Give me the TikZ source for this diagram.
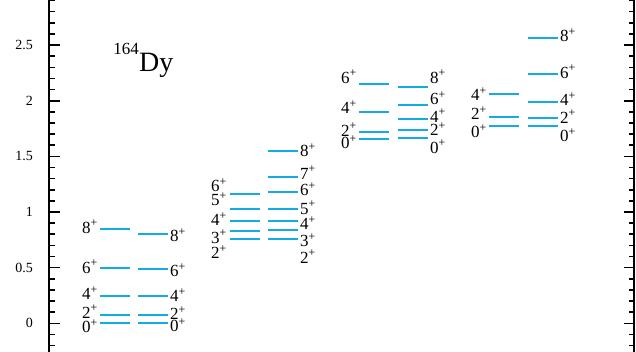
\documentclass[tikz,border=0pt]{standalone}
\usepackage{fontspec}
\setmainfont{Liberation Serif}
\usetikzlibrary{positioning}
\definecolor{levelblue}{RGB}{20,170,228}

\begin{document}
\begin{tikzpicture}[x=1pt, y=111.3pt,
        level/.style={draw=levelblue, line width=2pt},
        spin/.style={inner sep=0pt, font=\fontsize{17}{17}\selectfont},
        axis/.style={draw=black, line width=2pt},
        tickmark/.style={draw=black, line width=1.6pt},
        ticklab/.style={anchor=east, inner sep=0pt, font=\fontsize{14}{14}\selectfont}
        ]
        \useasboundingbox (0,-0.249) rectangle (636,2.905);

        % Axes
        \draw[axis] (49,-0.26) -- (49,2.92);
        \draw[axis] (634,-0.26) -- (634,2.92);
        \foreach \t in {-2,...,29} {
            \draw[tickmark] (49,\t/10) -- ++(6,0);
            \draw[tickmark] (634,\t/10) -- ++(-5,0);
        }
        \foreach \t/\name in {0/0, 0.5/0.5, 1/1, 1.5/1.5, 2/2, 2.5/2.5} {
            \draw[tickmark] (49,\t) -- ++(11,0);
            \draw[tickmark] (634,\t) -- ++(-10,0);
            \node[ticklab] (tick-\name) at (33,\t) {\name};
        }

        % Title
        \node[anchor=base west, inner sep=0pt, font=\fontsize{28}{28}\selectfont] (elem) at (139,2.261) {Dy};
        \node[anchor=base east, inner sep=0pt, font=\fontsize{17}{17}\selectfont] (mass) at (139,2.411) {164};

        % Ground band
        \foreach \e/\ly/\j in {0/-0.024/0, 0.0734/0.104/2, 0.2422/0.270/4, 0.5013/0.509/6, 0.8438/0.868/8} {
            \draw[level] (100,\e) -- (130,\e);
            \node[spin, anchor=east] (gexp-\j) at (98,\ly) {\j\textsuperscript{+}};
        }
        \foreach \e/\ly/\j in {0/-0.015/0, 0.075/0.090/2, 0.243/0.254/4, 0.491/0.479/6, 0.800/0.793/8} {
            \draw[level] (138,\e) -- (168,\e);
            \node[spin, anchor=west] (gth-\j) at (170,\ly) {\j\textsuperscript{+}};
        }

        % Gamma band
        \foreach \e/\ly/\j in {0.7618/0.638/2, 0.8282/0.778/3, 0.9159/0.937/4, 1.0250/1.114/5, 1.1590/1.243/6} {
            \draw[level] (230,\e) -- (260,\e);
            \node[spin, anchor=east] (gaexp-\j) at (227,\ly) {\j\textsuperscript{+}};
        }
        \foreach \e/\ly/\j in {0.760/0.598/2, 0.836/0.748/3, 0.919/0.898/4, 1.027/1.039/5, 1.180/1.204/6, 1.314/1.353/7, 1.548/1.557/8} {
            \draw[level] (268,\e) -- (298,\e);
            \node[spin, anchor=west] (gath-\j) at (300,\ly) {\j\textsuperscript{+}};
        }

        % Second 0+ band
        \foreach \e/\ly/\j in {1.659/1.630/0, 1.722/1.740/2, 1.896/1.941/4, 2.147/2.216/6} {
            \draw[level] (359,\e) -- (389,\e);
            \node[spin, anchor=east] (bexp-\j) at (357,\ly) {\j\textsuperscript{+}};
        }
        \foreach \e/\ly/\j in {1.665/1.587/0, 1.737/1.746/2, 1.833/1.865/4, 1.959/2.022/6, 2.126/2.216/8} {
            \draw[level] (398,\e) -- (428,\e);
            \node[spin, anchor=west] (bth-\j) at (430,\ly) {\j\textsuperscript{+}};
        }

        % Third 0+ band
        \foreach \e/\ly/\j in {1.775/1.728/0, 1.856/1.887/2, 2.058/2.060/4} {
            \draw[level] (489,\e) -- (519,\e);
            \node[spin, anchor=east] (cexp-\j) at (487,\ly) {\j\textsuperscript{+}};
        }
        \foreach \e/\ly/\j in {1.772/1.690/0, 1.842/1.856/2, 1.991/2.015/4, 2.237/2.261/6, 2.561/2.590/8} {
            \draw[level] (528,\e) -- (558,\e);
            \node[spin, anchor=west] (cth-\j) at (560,\ly) {\j\textsuperscript{+}};
        }

\end{tikzpicture}
\end{document}
